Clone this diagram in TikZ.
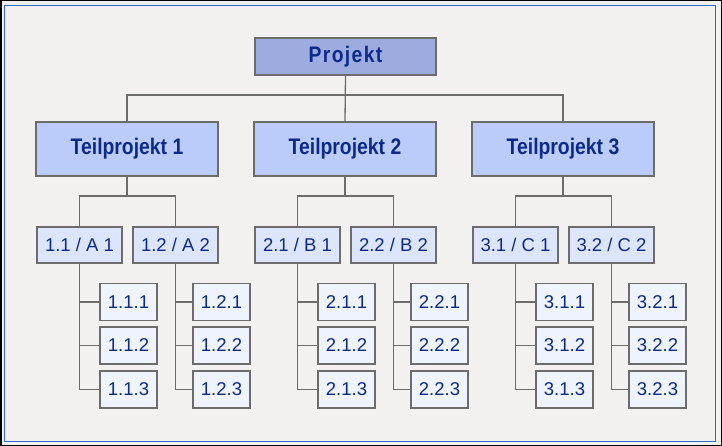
\documentclass[tikz,border=0pt]{standalone}
\usepackage{fontspec}
\setmainfont{Liberation Sans}
\newfontfamily\headfont[FakeStretch=0.86]{Liberation Sans}
\newfontfamily\projfont[FakeStretch=0.86,LetterSpace=6]{Liberation Sans}
\definecolor{bgcol}{HTML}{F2F1F0}
\definecolor{frameblue}{HTML}{2C6AC4}
\definecolor{linegray}{HTML}{6C6C6C}
\definecolor{txtblue}{HTML}{0C2A8A}
\definecolor{topfill}{HTML}{9EABDE}
\definecolor{tpfill}{HTML}{BBCBFA}
\definecolor{wpfill}{HTML}{DCE5FB}
\definecolor{leaffill}{HTML}{EEF3FD}
\begin{document}
\begin{tikzpicture}[x=1pt,y=-1pt,
  box/.style={draw=linegray, line width=1.8pt, inner sep=0pt, text=txtblue},
  topbox/.style={box, fill=topfill, minimum width=181pt, minimum height=37pt,
    font=\projfont\bfseries\fontsize{22.5}{24}\selectfont},
  tpbox/.style={box, fill=tpfill, minimum width=182pt, minimum height=54pt,
    font=\headfont\bfseries\fontsize{22.5}{24}\selectfont},
  wpbox/.style={box, fill=wpfill, minimum width=85pt, minimum height=36pt,
    font=\fontsize{18.5}{20}\selectfont},
  leafbox/.style={box, fill=leaffill, minimum width=57pt, minimum height=37pt,
    font=\fontsize{18.5}{20}\selectfont},
  conn/.style={draw=linegray, line width=1.3pt}]
\useasboundingbox (0,0) rectangle (722,446);
\fill[bgcol] (0,0) rectangle (722,446);
\draw[black, line width=1.5pt] (0.75,0.75) rectangle (721.25,445.25);
\draw[frameblue, line width=1.5pt] (4.5,5.5) rectangle (715.5,441.5);

\coordinate (bus) at (0,95);
\coordinate (sb) at (0,196);

\node[topbox] (p) at (345.5,56.5) {Projekt};

\foreach \g/\dx/\L in {1/0/A, 2/218/B, 3/436/C}{
  \node[tpbox] (tp\g) at (127+\dx,149) {Teilprojekt \g};
  \node[wpbox] (w\g1) at (79.5+\dx,245) {\g.1 / \L\ 1};
  \node[wpbox] (w\g2) at (175.5+\dx,245) {\g.2 / \L\ 2};
  \draw[conn] (tp\g.south) -- (tp\g.south |- sb);
  \draw[conn] (w\g1.north) -- (w\g1.north |- sb) -- (w\g2.north |- sb) -- (w\g2.north);
  \foreach \s/\lx in {1/128.5, 2/221.5}{
    \node[leafbox] (l\g\s1) at (\lx+\dx,302) {\g.\s.1};
    \node[leafbox] (l\g\s2) at (\lx+\dx,345.5) {\g.\s.2};
    \node[leafbox] (l\g\s3) at (\lx+\dx,389.5) {\g.\s.3};
    \draw[conn] (w\g\s.south) |- (l\g\s3.west);
    \draw[conn] (w\g\s.south |- l\g\s1.west) -- (l\g\s1.west);
    \draw[conn] (w\g\s.south |- l\g\s2.west) -- (l\g\s2.west);
  }
}

\draw[conn] (p.south) -- (tp2.north);
\draw[conn] (tp1.north) -- (tp1.north |- bus) -- (tp3.north |- bus) -- (tp3.north);
\end{tikzpicture}
\end{document}
